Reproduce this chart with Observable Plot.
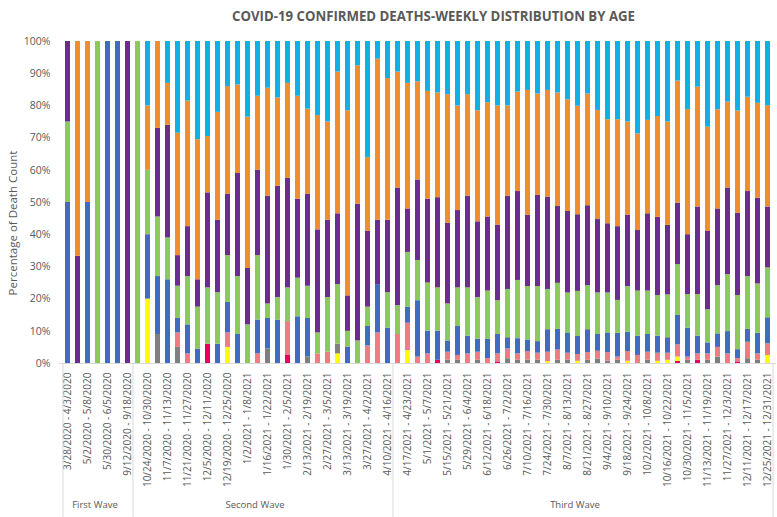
<!DOCTYPE html>
<html><head><meta charset="utf-8">
<script src="https://cdn.jsdelivr.net/npm/d3@7"></script>
<script src="https://cdn.jsdelivr.net/npm/@observablehq/plot@0.6"></script>
<style>
body{margin:0;background:#fff;font-family:"Open Sans",sans-serif;}
#wrap{position:relative;width:777px;height:517px;}
#title{height:30px;position:relative;width:777px;}
#title span{position:absolute;left:232px;top:5px;font-weight:700;font-size:15px;color:#595959;white-space:nowrap;transform-origin:0 0;}
#ylab{position:absolute;left:12px;top:223px;transform:translate(-50%,-50%) rotate(-90deg);font-size:11.5px;color:#595959;white-space:nowrap;}
</style></head><body>
<div id="wrap">
<div id="title"><span id="tt">COVID-19 CONFIRMED DEATHS-WEEKLY DISTRIBUTION BY AGE</span></div>
<div id="chart"></div>
<div id="ylab">Percentage of Death Count</div>
</div>
<script>
const weeks = [
"3/28/2020 - 4/3/2020","4/11/2020 - 4/17/2020","5/2/2020 - 5/8/2020","5/16/2020 - 5/22/2020","5/30/2020 - 6/5/2020","7/25/2020 - 7/31/2020","9/12/2020 - 9/18/2020",
"10/17/2020 - 10/23/2020","10/24/2020 - 10/30/2020","10/31/2020 - 11/6/2020","11/7/2020 - 11/13/2020","11/14/2020 - 11/20/2020","11/21/2020 - 11/27/2020","11/28/2020 - 12/4/2020","12/5/2020 - 12/11/2020","12/12/2020 - 12/18/2020","12/19/2020 - 12/25/2020","12/26/2020 - 1/1/2021","1/2/2021 - 1/8/2021","1/9/2021 - 1/15/2021","1/16/2021 - 1/22/2021","1/23/2021 - 1/29/2021","1/30/2021 - 2/5/2021","2/6/2021 - 2/12/2021","2/13/2021 - 2/19/2021","2/20/2021 - 2/26/2021","2/27/2021 - 3/5/2021","3/6/2021 - 3/12/2021","3/13/2021 - 3/19/2021","3/20/2021 - 3/26/2021","3/27/2021 - 4/2/2021","4/3/2021 - 4/9/2021","4/10/2021 - 4/16/2021",
"4/10/2021 - 4/16/2021 (3rd)","4/17/2021 - 4/23/2021","4/24/2021 - 4/30/2021","5/1/2021 - 5/7/2021","5/8/2021 - 5/14/2021","5/15/2021 - 5/21/2021","5/22/2021 - 5/28/2021","5/29/2021 - 6/4/2021","6/5/2021 - 6/11/2021","6/12/2021 - 6/18/2021","6/19/2021 - 6/25/2021","6/26/2021 - 7/2/2021","7/3/2021 - 7/9/2021","7/10/2021 - 7/16/2021","7/17/2021 - 7/23/2021","7/24/2021 - 7/30/2021","7/31/2021 - 8/6/2021","8/7/2021 - 8/13/2021","8/14/2021 - 8/20/2021","8/21/2021 - 8/27/2021","8/28/2021 - 9/3/2021","9/4/2021 - 9/10/2021","9/11/2021 - 9/17/2021","9/18/2021 - 9/24/2021","9/25/2021 - 10/1/2021","10/2/2021 - 10/8/2021","10/9/2021 - 10/15/2021","10/16/2021 - 10/22/2021","10/23/2021 - 10/29/2021","10/30/2021 - 11/5/2021","11/6/2021 - 11/12/2021","11/13/2021 - 11/19/2021","11/20/2021 - 11/26/2021","11/27/2021 - 12/3/2021","12/4/2021 - 12/10/2021","12/11/2021 - 12/17/2021","12/18/2021 - 12/24/2021","12/25/2021 - 12/31/2021"
];
const waves = ["First Wave","Second Wave","Third Wave"];
const waveCounts = [7,26,38];
const ageGroups = ["0-9","10-19","20-29","30-39","40-49","50-59","60-69","70-79","80+"];
const colors = ["#E8005F","#FFFF00","#7F7F7F","#F07B82","#3F6CC0","#8DC85A","#6A2C91","#F18D2E","#12AEE8"];

// percent of weekly deaths, one array per age group (bottom to top)
const age0_9 = [0,0,0,0,0,0,0,0,0,0, 0,0,0,0,6,0,0,0,0,0, 0,0,2.5,0,0,0,0,0,0,0, 0,0,0,0,0,0,0,1,0,0, 0,0,0,0.5,0,0,0,0,0,0, 0,0,0,0,0,0,0,0,0,0, 0,0.7,0,1,0,0,0,0.5,0,0, 0];
const age10_19 = [0,0,0,0,0,0,0,0,20,0, 0,0,0,0,0,0,5,0,0,0, 0,0,0,0,0,0,0,3,0,0, 0,0,0,0,4,0,0,0,0,0, 0,0,0,0,0,0,0,0,0.6,0, 0,0.7,0,0,0,0,0.7,0,0,0.7, 1,1.3,0,0,0,0,0,0,0,0, 2.5];
const age20_29 = [0,0,0,0,0,0,0,0,0,9, 0,5,0,0,0,0,0,0,0,0, 4.5,0,0,0,2,0,0,3,0,0, 0,0,0,0,0,0,0,0,1,1, 0,1,0,0,1.5,1,1,1,0,1, 1,0,1,1.4,0.7,1,0,0,1,0, 0,0,1,0,1,2,0,0,1.5,1, 0];
const age30_39 = [0,0,0,0,0,0,0,0,0,0, 0,4.5,3,0,0,0,4.5,0,0,3, 0,0,10.5,0,0,3,3.5,0,0,0, 5.5,9.5,0,9,8.5,2,3,0,2.5,1.5, 3,2.5,1.5,2.5,3,2,2.7,2.2,2.9,3.2, 2.2,2.1,2.4,2.4,2.7,1,3,2.5,2.5,2.5, 2.2,3.8,1,2,2,3,3,1,5.1,2, 3.6];
const age40_49 = [50,0,50,0,100,100,0,0,20,18, 26,4.5,9,4.5,0,6,9.5,9,0,10.5, 9.5,13.5,0,14.5,12,0,0,0,5,0, 6,15,11,0,5,17.5,7,9,3.5,9, 5.5,4,6,6,3.5,4.7,3.6,3.6,7,6.4, 6.3,5.6,7.1,5.2,6.1,7.4,6,6,5.5,5.3, 4.8,9.1,9,5.5,3.4,4.2,6.9,2.8,4,6.4, 8.1];
const age50_59 = [25,0,0,100,0,0,0,100,20,18.5, 13,10,15,13,17.5,16,14.5,18,12,20, 4.5,7,10.5,12,10,6.5,17,18.5,5,7, 6,0,11,9,17,12.5,15,13.5,11.5,12, 15,13,15,10.5,15,18.1,16.6,17.1,12.5,14.3, 12.4,14,13.7,12.9,12.4,10.2,14.2,14,13.5,12.6, 13.3,15.8,10.4,12.9,10.3,15,17.7,16.8,16.4,15.3, 15.5];
const age60_69 = [25,33.3,0,0,0,0,100,0,0,27.5, 35,9.5,15.5,8.5,29.5,22.5,19,32,17.5,26.5, 33.5,34.5,34,24.5,28.5,32,24,22,11,42.5, 23.5,20,22.5,36.5,13.5,25,26,28,25,24, 28.5,23.5,23,23.5,29,27.6,22.1,28.3,28.7,23.9, 25.3,23.8,24.8,22.8,21.5,22.9,22.1,18.8,24,24.3, 21.6,19.1,18.6,27.2,24.3,23.8,26.9,25.6,26.4,26.6, 18.9];
const age70_79 = [0,66.7,50,0,0,0,0,0,20,27, 13,38,39,43.5,17.5,33.5,33.5,27.5,47,23, 33.5,27.5,29.5,32,26.5,35.5,30.5,44,57.5,43, 23,50,44,36,39,30.5,33.5,32.5,40,32.5, 31.5,34.5,35.5,37,28,30.9,38.8,31.5,33.1,35.2, 34.7,33.7,34.7,33.9,32.3,33.2,29,30,29,31.3, 32.1,37.9,38.9,37.2,32.4,30.8,26.7,31.7,29.3,29.5, 31.5];
const age80plus = [0,0,0,0,0,0,0,0,20,0, 13,28.5,18.5,30.5,29.5,22,14,13.5,23.5,17, 14.5,17.5,13,17,21,23,25,9.5,21.5,7.5, 36,5.5,11.5,9.5,13,12.5,15.5,16,16.5,20, 16.5,21.5,19,20,20,15.7,15.2,16.3,15.2,16, 18.1,20.1,16.3,21.4,24.3,24.3,25,28.7,24.5,23.3, 25,12.3,21.1,14.2,26.6,21.2,18.8,21.6,17.3,19.2, 19.9];

const series = [age0_9, age10_19, age20_29, age30_39, age40_49, age50_59, age60_69, age70_79, age80plus];
const table = [];
weeks.forEach((w, i) => series.forEach((s, g) => { if (s[i] > 0) table.push({i, week: w, group: ageGroups[g], value: s[i]}); }));

const W = 777, H = 487, mL = 59, mR = 1, mT = 11, mB = 154;
const pIn = 0.5, pOut = 0.25;
const idx = d3.range(weeks.length);
const step = (W - mL - mR) / (weeks.length - pIn + 2 * pOut);
const starts = [0, ...d3.cumsum(waveCounts)];
const waveTbl = waves.map((name, k) => {
  const mid = starts[k] + (waveCounts[k] - 1) / 2;
  return {name, i: Math.floor(mid), dx: (mid - Math.floor(mid)) * step};
});
const grey = "#595959", line = "#D9D9D9";

const chart = Plot.plot({
  width: W, height: H, marginLeft: mL, marginRight: mR, marginTop: mT, marginBottom: mB,
  style: {fontFamily: "'Open Sans', sans-serif", fontSize: "10px", color: grey, background: "#fff"},
  x: {type: "band", domain: idx, paddingInner: pIn, paddingOuter: pOut},
  y: {domain: [0, 1]},
  color: {domain: ageGroups, range: colors},
  marks: [
    Plot.barY(table, Plot.stackY({x: "i", y: "value", fill: "group", order: ageGroups, offset: "normalize"})),
    Plot.ruleY([0], {stroke: line}),
    Plot.axisY({ticks: d3.range(0, 1.0001, 0.1), tickFormat: d3.format(".0%"), tickSize: 0, tickPadding: 9, label: null, fontSize: 10.5}),
    Plot.axisX({ticks: idx.filter(i => i % 2 === 0), tickFormat: i => weeks[i], tickRotate: -90, tickSize: 0, tickPadding: 9, label: null, fontSize: 10}),
    Plot.ruleX(starts.slice(0, 3), {x: d => d, dx: -step / 2, y1: 0, y2: -0.478, stroke: line}),
    Plot.ruleX([weeks.length - 1], {x: d => d, dx: step / 2, y1: 0, y2: -0.478, stroke: line}),
    Plot.text(waveTbl, {x: "i", dx: "dx", y: -0.44, text: "name", fill: grey, fontSize: 9.5})
  ]
});
document.getElementById("chart").appendChild(chart);
const tt = document.getElementById("tt");
const tw = tt.getBoundingClientRect().width;
tt.style.transform = `scaleX(${403 / tw})`;
</script>
</body></html>
